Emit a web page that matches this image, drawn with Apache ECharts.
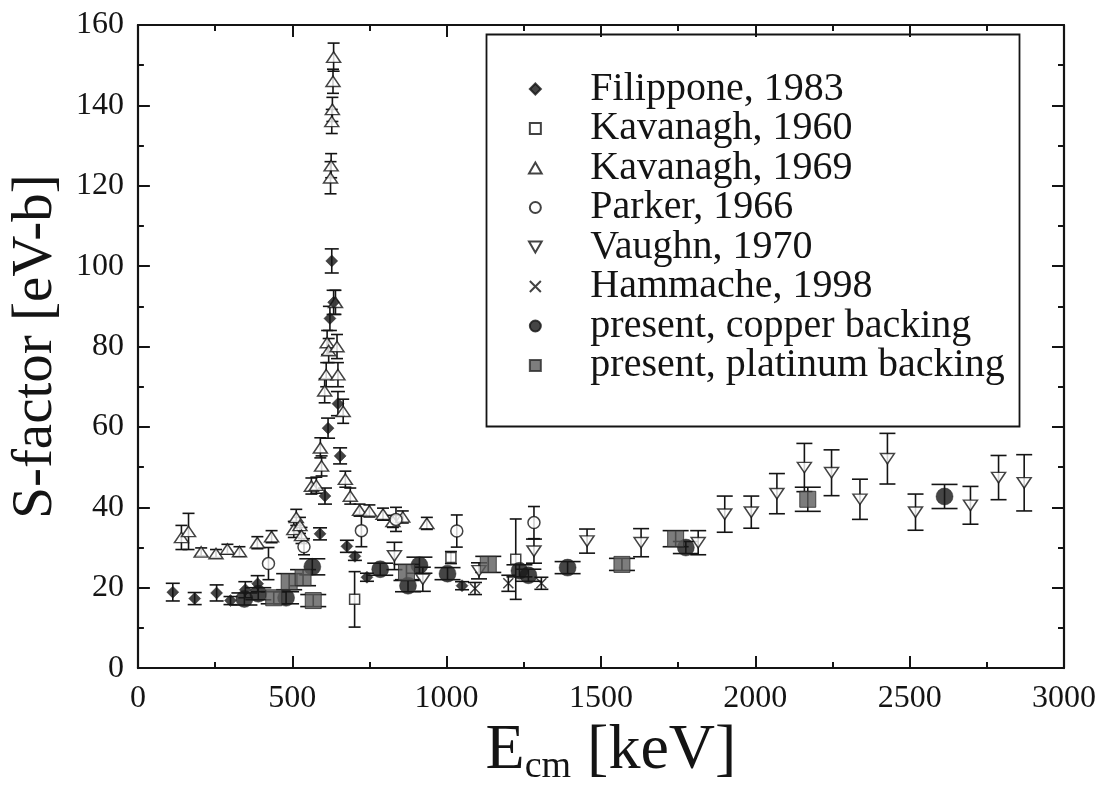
<!DOCTYPE html>
<html><head><meta charset="utf-8">
<script src="https://cdn.jsdelivr.net/npm/echarts@6/dist/echarts.min.js"></script>
<style>html,body{margin:0;padding:0;background:#fff}#c{width:1110px;height:791px}</style>
</head><body><div id="c"></div>
<script>
// ---- data: [E_cm (keV), S (eV-b), error]
const filippone = [[113,18.9,2.2],[184,17.3,1.5],[255,18.7,2],[300,16.8,1],[348,19.5,2],[388,21,2],[590,33.4,1.5],[606,42.8,2],[616,59.7,2.5],[622,87,3],[628,101.3,3],[634,91,3],[648,65.8,3],[655,52.8,2],[677,30.3,1.5],[703,27.8,1],[742,22.6,1],[1050,20.5,1]];
const kav1960 = [[702,17.1,6.9],[1014,27.5,1.5],[1224,27.1,10]];
const kav1969 = [[141,32.5,3],[164,34,4.5],[205,28.9,1],[253,28.5,1],[290,29.6,1.2],[329,29.0,1.2],[387,31.2,1.5],[433,32.7,1.5],[505,34.5,2],[513,37.5,2],[525,35.5,2],[530,33,2],[562,45.3,2],[578,45.5,2],[591,54.8,2.5],[595,50.3,2.5],[605,69,3],[610,73,3],[613,81,3],[618,79,3],[624,122,4],[626,125,3],[628,136,3],[630,139,3],[632,146,3],[634,152,3.5],[640,91,3],[645,80,3],[648,73,3],[665,63.9,3],[672,47,2],[688,42.8,2],[718,39.3,1.5],[750,39.1,1.5],[794,38.3,1.5],[826,36.5,1.5],[858,37.6,1.5],[936,36,1.5]];
const parker = [[423,26,4],[538,30.2,2],[724,34.2,4],[836,37,3],[1033,34.1,4],[1283,36.2,4]];
const vaughn = [[831,27.9,3.4],[923,22.1,3],[1105,24.2,2],[1283,29.1,3],[1455,31.6,3],[1630,31.2,3.5],[1815,31.2,3],[1901,38.3,4.5],[1987,38.8,4],[2070,43.4,5],[2159,49.9,6],[2247,48.6,5.7],[2339,42,5],[2428,52.1,6.3],[2519,38.8,4.5],[2697,40.5,4.7],[2788,47.4,5.5],[2871,46.1,7]];
const hammache = [[1092,19.8,1.5],[1200,21.1,2],[1307,21.1,1.5]];
const copper = [[345,17.2,1.5],[390,18.5,1.5],[480,17.5,1.5],[565,25.2,2],[785,24.6,1.5],[875,20.5,1.5],[912,25.6,2],[1003,23.5,1.5],[1236,24.2,1.5],[1265,23.1,1.5],[1392,25,1.5],[1775,30,1.5],[2613,42.7,3]];
const platinum = [[440,17.5,1.5],[490,21.5,2],[535,22.5,2],[568,16.8,1.5],[870,23.8,2],[1135,25.8,2],[1568,25.8,1.5],[1742,32.2,2],[2170,42,3]];
const legendNames = ['Filippone, 1983','Kavanagh, 1960','Kavanagh, 1969','Parker, 1966','Vaughn, 1970','Hammache, 1998','present, copper backing','present, platinum backing'];
const xTicks = {min:0,max:3000,step:500};
const yTicks = {min:0,max:160,step:20};

const FONT = '"Liberation Serif","DejaVu Serif",serif';
const INK = '#141414';

function errSeries(data, halfCap, z){
  return {
    type:'custom', name:'err', silent:true, z:z||2,
    data:data,
    renderItem:function(params, api){
      const x=api.value(0), y=api.value(1), e=api.value(2);
      const t=api.coord([x,y+e]), b=api.coord([x,y-e]);
      const st={stroke:INK,lineWidth:1.6};
      return {type:'group',children:[
        {type:'line',shape:{x1:t[0],y1:t[1],x2:b[0],y2:b[1]},style:st},
        {type:'line',shape:{x1:t[0]-halfCap,y1:t[1],x2:t[0]+halfCap,y2:t[1]},style:st},
        {type:'line',shape:{x1:b[0]-halfCap,y1:b[1],x2:b[0]+halfCap,y2:b[1]},style:st}
      ]};
    }
  };
}
function pts(data){return data.map(d=>[d[0],d[1]]);}

const diamondP = 'path://M5,0L10,5L5,10L0,5Z';
const squareP = 'path://M0,0L10,0L10,10L0,10Z';
const triP = 'path://M5,0L10,8.66L0,8.66Z';
const invTri = 'path://M0,0L10,0L5,8.66Z';
const cross = 'path://M0,0L10,10M10,0L0,10';

const series = [
  errSeries(kav1969,6), errSeries(parker,6), errSeries(vaughn,8), errSeries(kav1960,6),
  errSeries(hammache,7), errSeries(filippone,7), errSeries(copper,13), errSeries(platinum,13),
  {type:'scatter',name:legendNames[2],data:pts(kav1969),symbol:triP,symbolSize:[14,12],symbolKeepAspect:true,z:5,
    itemStyle:{color:'#fff',borderColor:INK,borderWidth:1.5}},
  {type:'scatter',name:legendNames[3],data:pts(parker),symbol:'circle',symbolSize:12,symbolKeepAspect:true,z:5,
    itemStyle:{color:'#fff',borderColor:INK,borderWidth:1.5}},
  {type:'scatter',name:legendNames[4],data:pts(vaughn),symbol:invTri,symbolSize:[14,12],symbolKeepAspect:true,z:5,
    itemStyle:{color:'#fff',borderColor:INK,borderWidth:1.5}},
  {type:'scatter',name:legendNames[1],data:pts(kav1960),symbol:squareP,symbolSize:10,symbolKeepAspect:true,z:5,
    itemStyle:{color:'#fff',borderColor:INK,borderWidth:1.5}},
  {type:'scatter',name:legendNames[5],data:pts(hammache),symbol:cross,symbolSize:10,symbolKeepAspect:true,z:5,
    itemStyle:{color:'rgba(0,0,0,0)',borderColor:INK,borderWidth:1.5}},
  {type:'scatter',name:legendNames[0],data:pts(filippone),symbol:diamondP,symbolSize:12,symbolKeepAspect:true,z:6,
    itemStyle:{color:INK,borderColor:INK,borderWidth:0.5}},
  {type:'scatter',name:legendNames[6],data:pts(copper),symbol:'circle',symbolSize:17,symbolKeepAspect:true,z:6,
    itemStyle:{color:'#161616',borderColor:INK,borderWidth:0.5}},
  {type:'scatter',name:legendNames[7],data:pts(platinum),symbol:squareP,symbolSize:16,symbolKeepAspect:true,z:6,
    itemStyle:{color:'#5c5c5c',borderColor:'#2a2a2a',borderWidth:1}}
];

function axisCommon(show){
  return {
    axisLine:{show:true,onZero:false,lineStyle:{color:INK,width:2.2}},
    axisTick:{show:true,inside:true,length:12,lineStyle:{color:INK,width:2}},
    minorTick:{show:true,splitNumber:2,length:6,lineStyle:{color:INK,width:2}},
    splitLine:{show:false},
    axisLabel:{show:show,color:INK,fontFamily:FONT,fontSize:32,margin:14,formatter:function(v){return String(v);}}
  };
}

const chart = echarts.init(document.getElementById('c'),null,{renderer:'canvas'});
chart.setOption({
  backgroundColor:'#fff',
  animation:false,
  grid:{left:134,right:46,top:25,bottom:122,containLabel:false},
  xAxis:[
    Object.assign({type:'value',position:'bottom',min:xTicks.min,max:xTicks.max,interval:xTicks.step,
      name:'{a|E}{b|cm}{a| [keV]}',nameLocation:'middle',nameGap:27,
      nameTextStyle:{padding:[0,0,0,20],rich:{a:{fontFamily:FONT,fontSize:64,color:INK},b:{fontFamily:FONT,fontSize:38,color:INK,padding:[32,0,0,0]}}}},axisCommon(true)),
    Object.assign({type:'value',position:'top',min:xTicks.min,max:xTicks.max,interval:xTicks.step},axisCommon(false))
  ],
  yAxis:[
    Object.assign({type:'value',position:'left',min:yTicks.min,max:yTicks.max,interval:yTicks.step,
      name:'S-factor [eV-b]',nameLocation:'middle',nameGap:64,
      nameTextStyle:{fontFamily:FONT,fontSize:57,color:INK}},axisCommon(true)),
    Object.assign({type:'value',position:'right',min:yTicks.min,max:yTicks.max,interval:yTicks.step},axisCommon(false))
  ],
  legend:{
    data:legendNames, orient:'vertical', left:528, top:69, padding:0, itemWidth:100, itemHeight:11, itemGap:-0.5,
    textStyle:{fontFamily:FONT,fontSize:40,color:INK}, selectedMode:false
  },
  graphic:[{type:'rect',left:484,top:32,shape:{width:533,height:392},style:{fill:'none',stroke:INK,lineWidth:1.8},z:1}],
  series:series
});
</script></body></html>
